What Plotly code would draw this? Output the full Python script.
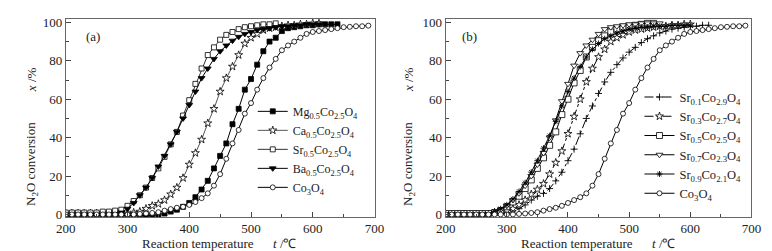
import plotly.graph_objects as go

# ---------------- data ----------------
# Panel (a)
t_mg = list(range(200, 650, 10))
mg = [-0.5]*15 + [0, 0.5, 1.5, 2.5, 4, 6, 9, 13, 17.5, 24, 30.5, 37, 47, 55, 65, 70.5, 78, 85, 90, 92,
                  95.5, 97, 97.5, 98, 98.5, 98.5, 99, 99, 99, 99]
t_ca = list(range(200, 620, 10))
ca = [0.5]*10 + [0.5, 1, 1.5, 3, 4.5, 5.5, 7.5, 10.5, 14, 19, 26, 32, 39, 47.5, 55, 64, 71, 77, 83, 89,
                 92, 94, 96, 97, 97.5, 98, 98.5, 98.5, 99, 99, 99.5, 99.5]
t_sr = list(range(200, 550, 10))
sr = [1, 1, 1, 1, 1, 1, 1.5, 1.5, 2, 2.5, 4.5, 7, 10, 14, 19, 24, 30, 36.5, 43, 51.5, 59.5, 68, 76,
      83, 87, 91, 93.5, 95, 96.5, 97.5, 98, 98.5, 99, 99, 99.5]
t_ba = list(range(200, 620, 10))
ba = [-0.5]*8 + [0, 1, 3, 6, 10, 14, 19, 25, 30.5, 36.5, 43, 50, 57, 64, 71, 76, 81, 85, 88, 90.5, 92.5,
                 94, 95, 96, 96.5, 97, 97.5, 98, 98, 98.5, 98.5, 99, 99, 99]
t_co = list(range(200, 700, 10))
co = [0]*12 + [0.3, 0.5, 0.8, 1.2, 2, 2.8, 3.5, 4, 5, 6.5, 8.5, 11, 15, 21, 29, 37, 44, 52.5, 58, 65,
               71, 76.5, 81, 85.5, 88, 90, 92, 94, 95, 95.5, 96, 96.5, 97, 97.5, 97.7, 98, 98, 98.3]

# Panel (b)
t_s1 = list(range(200, 640, 10))
s1 = [0]*9 + [0.5, 1, 2, 3, 5, 7.5, 9.5, 11, 13.5, 17.5, 22, 28, 34, 42, 50, 56.5, 63, 69, 74, 78, 81.5,
              84.5, 87, 89.5, 91.5, 93, 94.5, 95.5, 96.5, 97, 97.5, 98, 98, 98.5, 98.5]
t_s3 = list(range(200, 610, 10))
s3 = [0]*8 + [1, 1.5, 2, 3, 5, 7.5, 10.5, 13, 16, 21, 27, 33, 42, 51, 60, 69, 76, 82, 86, 90, 92, 93.5,
              95, 96, 96.5, 97, 97.5, 98, 98, 98.5, 98.5, 99, 99]
t_s5 = list(range(200, 550, 10))
s5 = [0.5]*8 + [1, 2, 4, 6.5, 9.5, 13.5, 18, 24, 29.5, 36, 43, 52, 60, 68.5, 75, 82, 87, 90.5, 93, 95,
                96.5, 97.5, 98, 98.5, 99, 99.5, 99.5]
t_s7 = list(range(200, 560, 10))
s7 = [0]*8 + [1, 2.5, 4.5, 7.5, 11, 15, 20, 26, 32, 40, 49, 59, 68, 77.5, 84, 88, 91, 94, 96.5, 97.5,
              98, 98.5, 99, 99, 99.5, 99.5, 99.5, 99.5]
t_s9 = list(range(200, 610, 10))
s9 = [0]*8 + [1.5, 3, 5, 8, 12, 16.5, 22, 28, 34.5, 41, 48.5, 56.5, 64, 71, 77, 82, 86, 89, 91.5, 93,
              94.5, 95.5, 96.5, 97, 97.5, 97.5, 98, 98, 98, 98.5, 98.5, 98.5, 98.5]
t_cb = list(range(200, 700, 10))
cb = [0]*12 + [0.3, 0.5, 0.8, 1.2, 2, 2.8, 3.5, 4.5, 6, 7.5, 9, 11, 15, 21, 29, 37, 44, 52.5, 58, 65,
               71, 76.5, 81, 85.5, 88, 90, 92, 94, 95, 95.5, 96, 96.5, 97, 97.5, 97.7, 98, 98, 98.3]

x_ticks = [200, 300, 400, 500, 600, 700]
y_ticks = [0, 20, 40, 60, 80, 100]

# ---------------- figure ----------------
FONT = "Liberation Serif, Times New Roman, serif"
fig = go.Figure()


def add(x, y, name, symbol, fill, xa, ya, legend, dash="solid", lcolor="black", size=6, mlw=0.8):
    fig.add_trace(go.Scatter(
        x=x, y=y, name=name, mode="lines+markers", xaxis=xa, yaxis=ya, legend=legend,
        line=dict(color=lcolor, width=1, dash=dash),
        marker=dict(symbol=symbol, size=size, color=fill, line=dict(color="black", width=mlw)),
    ))


add(t_mg, mg, "Mg<sub>0.5</sub>Co<sub>2.5</sub>O<sub>4</sub>", "square", "black", "x", "y", "legend", size=5)
add(t_ca, ca, "Ca<sub>0.5</sub>Co<sub>2.5</sub>O<sub>4</sub>", "star", "white", "x", "y", "legend", lcolor="#555")
add(t_sr, sr, "Sr<sub>0.5</sub>Co<sub>2.5</sub>O<sub>4</sub>", "square", "white", "x", "y", "legend", lcolor="#333", size=5)
add(t_ba, ba, "Ba<sub>0.5</sub>Co<sub>2.5</sub>O<sub>4</sub>", "triangle-down", "black", "x", "y", "legend")
add(t_co, co, "Co<sub>3</sub>O<sub>4</sub>", "circle", "white", "x", "y", "legend", size=5)

add(t_s1, s1, "Sr<sub>0.1</sub>Co<sub>2.9</sub>O<sub>4</sub>", "cross-thin", "black", "x2", "y2", "legend2",
    dash="dashdot", size=5, mlw=0.9)
add(t_s3, s3, "Sr<sub>0.3</sub>Co<sub>2.7</sub>O<sub>4</sub>", "star", "white", "x2", "y2", "legend2", dash="dashdot")
add(t_s5, s5, "Sr<sub>0.5</sub>Co<sub>2.5</sub>O<sub>4</sub>", "square", "white", "x2", "y2", "legend2", size=6)
add(t_s7, s7, "Sr<sub>0.7</sub>Co<sub>2.3</sub>O<sub>4</sub>", "triangle-down", "white", "x2", "y2", "legend2")
add(t_s9, s9, "Sr<sub>0.9</sub>Co<sub>2.1</sub>O<sub>4</sub>", "asterisk", "black", "x2", "y2", "legend2",
    size=5, mlw=0.9)
add(t_cb, cb, "Co<sub>3</sub>O<sub>4</sub>", "circle", "white", "x2", "y2", "legend2", size=5)

W, H = 772, 251
ytop, ybot = 7, 213
yd = [(H - ybot) / H, (H - ytop) / H]

axis_common = dict(
    showline=True, linecolor="#666", linewidth=1, mirror=True,
    ticks="inside", ticklen=5, tickcolor="#444", showgrid=False, zeroline=False,
    tickfont=dict(family=FONT, size=13, color="#222"),
)
xaxis_common = dict(axis_common, range=[200, 700], tickvals=x_ticks, ticklabelstandoff=-1,
                    minor=dict(ticks="inside", ticklen=3, dtick=50, tick0=200, tickcolor="#444"))
yaxis_common = dict(axis_common, range=[-1.5, 101.9], tickvals=y_ticks,
                    minor=dict(ticks="inside", ticklen=3, dtick=10, tick0=0, tickcolor="#444"))

fig.update_layout(
    width=W, height=H, margin=dict(l=0, r=0, t=0, b=0),
    paper_bgcolor="white", plot_bgcolor="white",
    font=dict(family=FONT, size=13, color="#222"),
    xaxis=dict(xaxis_common, domain=[49 / W, 366 / W], anchor="y"),
    yaxis=dict(yaxis_common, domain=yd, anchor="x"),
    xaxis2=dict(xaxis_common, domain=[439 / W, 753 / W], anchor="y2"),
    yaxis2=dict(yaxis_common, domain=yd, anchor="x2"),
    legend=dict(x=241 / W, y=(H - 88) / H, xanchor="left", yanchor="top",
                bgcolor="rgba(0,0,0,0)", font=dict(family=FONT, size=12, color="#222"),
                itemwidth=30, tracegroupgap=0),
    legend2=dict(x=638 / W, y=(H - 73) / H, xanchor="left", yanchor="top",
                 bgcolor="rgba(0,0,0,0)", font=dict(family=FONT, size=12.5, color="#222"),
                 itemwidth=30, tracegroupgap=0),
    showlegend=True,
)

TF = dict(family=FONT, size=13, color="#222")
ann = []
for dx in [0, 389]:
    ann.append(dict(x=(185 + dx) / W, y=(H - 240) / H, xref="paper", yref="paper", showarrow=False,
                    text="Reaction temperature", font=TF, xanchor="center", yanchor="middle"))
    ann.append(dict(x=(274 + dx) / W, y=(H - 240) / H, xref="paper", yref="paper", showarrow=False,
                    text="<i>t</i> /\u2103", font=TF, xanchor="center", yanchor="middle"))
for cx in [14, 401]:
    ann.append(dict(x=cx / W, y=(H - 158) / H, xref="paper", yref="paper", showarrow=False,
                    text="N<sub>2</sub>O conversion", textangle=-90, font=TF,
                    xanchor="center", yanchor="middle"))
    ann.append(dict(x=cx / W, y=(H - 70) / H, xref="paper", yref="paper", showarrow=False,
                    text="<i>x</i> /%", textangle=-90, font=TF,
                    xanchor="center", yanchor="middle"))
ann.append(dict(x=77 / W, y=(H - 25) / H, xref="paper", yref="paper", showarrow=False, text="(a)",
                font=TF, xanchor="center", yanchor="middle"))
ann.append(dict(x=463 / W, y=(H - 25) / H, xref="paper", yref="paper", showarrow=False, text="(b)",
                font=TF, xanchor="center", yanchor="middle"))
fig.update_layout(annotations=ann)

fig.write_html("out.html")
